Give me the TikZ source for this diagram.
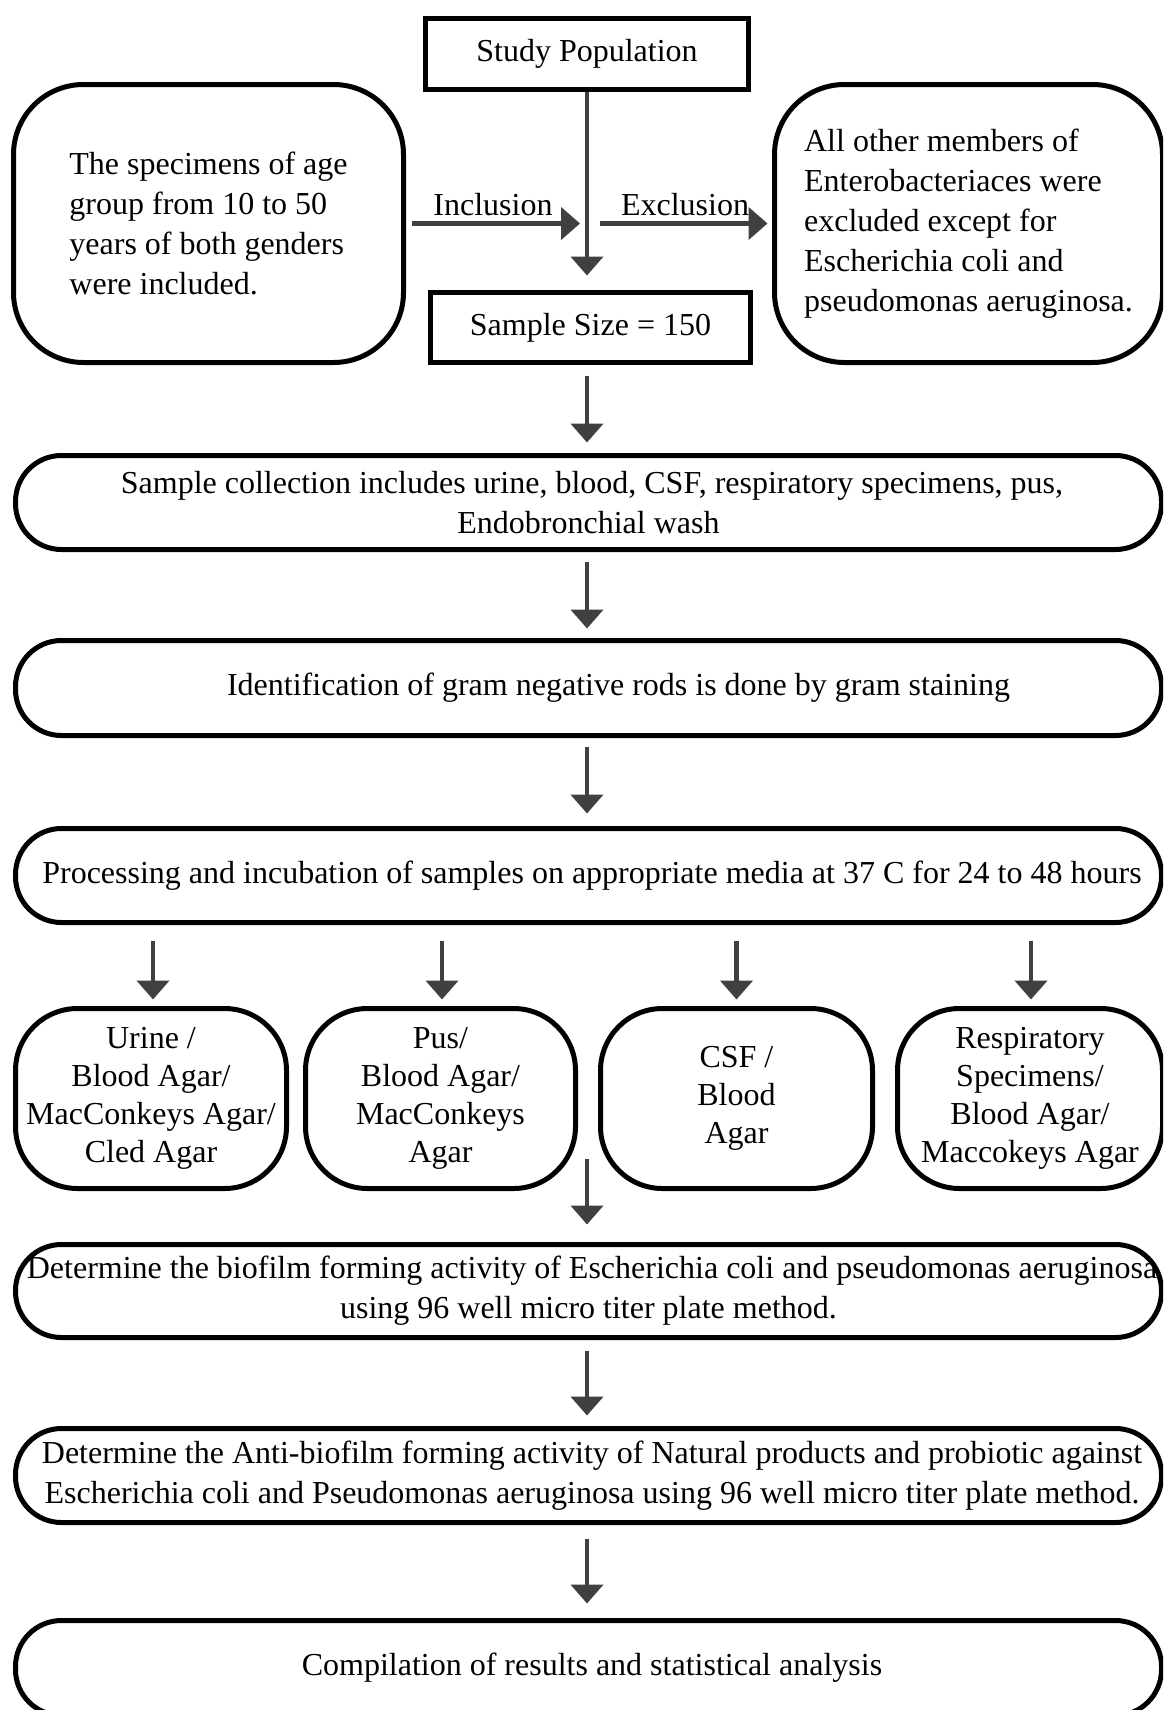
\documentclass[tikz,border=0pt]{standalone}
\usepackage{fontspec}
\setmainfont{Liberation Serif}
\usetikzlibrary{arrows.meta}
\definecolor{arrgray}{HTML}{404040}
\begin{document}
\begin{tikzpicture}[x=1pt,y=-1pt,
  txt/.style={font=\fontsize{32}{40}\selectfont},
  box/.style={draw=black, line width=5pt, rounded corners=#1, inner sep=0pt, align=center, txt},
  box/.default=46pt,
  sbox/.style={draw=black, line width=5pt, inner sep=0pt, align=center, txt},
  small/.style={box=62pt, minimum height=180pt, font=\fontsize{32}{38}\selectfont},
  wide/.style={box=46pt, minimum width=1146pt},
  arr/.style={draw=arrgray, line width=4.5pt, -{Triangle[width=32pt,length=19pt]}}
]
\useasboundingbox (0,0) rectangle (1163,1710);
\clip (0,0) rectangle (1163,1710);
\fill[white] (0,0) rectangle (1163,1710);

% top row
\node[sbox, minimum width=323pt, minimum height=71pt] (sp) at (587,54) {Study Population};
\node[box=70pt, minimum width=390pt, minimum height=278pt, align=left] (inc) at (208.5,223.5)
  {The specimens of age\\group from 10 to 50\\years of both genders\\were included.};
\node[box=70pt, minimum width=388pt, minimum height=278pt, align=left] (exc) at (968.5,223.5)
  {All other members of\\Enterobacteriaces were\\excluded except for\\Escherichia coli and\\pseudomonas aeruginosa.};
\node[sbox, minimum width=320pt, minimum height=70pt] (ss) at (590.5,327.5) {Sample Size = 150};

% wide boxes
\node[wide, minimum height=94pt] (sc) at (588.5,502.5)
  {\hspace*{7pt}Sample collection includes urine, blood, CSF, respiratory specimens, pus,\\Endobronchial wash};
\node[wide, minimum height=95pt] (id) at (588.5,688)
  {\hspace*{60pt}Identification of gram negative rods is done by gram staining};
\node[wide, minimum height=94pt] (pr) at (588.5,875.5)
  {\hspace*{7pt}Processing and incubation of samples on appropriate media at 37 C for 24 to 48 hours};

% small boxes
\node[small, minimum width=271pt] (u) at (151,1098.5)
  {Urine /\\Blood Agar/\\MacConkeys Agar/\\Cled Agar};
\node[small, minimum width=270pt] (p) at (440.5,1098.5)
  {Pus/\\Blood Agar/\\MacConkeys\\Agar};
\node[small, minimum width=272pt] (c) at (736.5,1098.5)
  {CSF /\\Blood\\Agar};
\node[small, minimum width=265pt] (r) at (1030,1098.5)
  {Respiratory\\Specimens/\\Blood Agar/\\Maccokeys Agar};

\node[wide, minimum height=93pt] (bf) at (588.5,1291)
  {\hspace*{7pt}Determine the biofilm forming activity of Escherichia coli and pseudomonas aeruginosa\\using 96 well micro titer plate method.};
\node[wide, minimum height=94pt] (ab) at (588.5,1475.5)
  {\hspace*{7pt}Determine the Anti-biofilm forming activity of Natural products and probiotic against\\\hspace*{7pt}Escherichia coli and Pseudomonas aeruginosa using 96 well micro titer plate method.};
\node[wide, minimum height=95pt] (cp) at (588.5,1668)
  {\hspace*{7pt}Compilation of results and statistical analysis};

% connectors
\coordinate (incend) at (580,223.5);
\coordinate (excstart) at (600,223.5);
\coordinate (mid) at (587,1159);

\draw[arr, shorten >=14.5pt] (sp.south -| 587,0) -- (ss.north -| 587,0);
\draw[arr, shorten <=6pt] (inc.east) -- (incend);
\draw[arr, shorten >=4.5pt] (excstart) -- (exc.west);
\node[txt, anchor=base] (inclbl) at (493,215) {Inclusion};
\node[txt, anchor=base] (exclbl) at (685,215) {Exclusion};

\draw[arr, shorten <=10.5pt, shorten >=10.5pt] (ss.south -| 587,0) -- (sc.north -| 587,0);
\draw[arr, shorten <=9.5pt, shorten >=9.5pt] (sc.south -| 587,0) -- (id.north -| 587,0);
\draw[arr, shorten <=8.5pt, shorten >=12.5pt] (id.south -| 587,0) -- (pr.north -| 587,0);
\draw[arr, shorten <=15.5pt, shorten >=6.5pt] (pr.south -| 153,0) -- (u.north -| 153,0);
\draw[arr, shorten <=15.5pt, shorten >=6.5pt] (pr.south -| 442,0) -- (p.north -| 442,0);
\draw[arr, shorten <=15.5pt, shorten >=6.5pt] (pr.south -| c.north) -- (c.north);
\draw[arr, shorten <=15.5pt, shorten >=6.5pt] (pr.south -| 1031,0) -- (r.north -| 1031,0);
\draw[arr, shorten >=17.5pt] (mid) -- (bf.north -| mid);
\draw[arr, shorten <=10.5pt, shorten >=10.5pt] (bf.south -| 587,0) -- (ab.north -| 587,0);
\draw[arr, shorten <=13.5pt, shorten >=14.5pt] (ab.south -| 587,0) -- (cp.north -| 587,0);
\end{tikzpicture}
\end{document}
